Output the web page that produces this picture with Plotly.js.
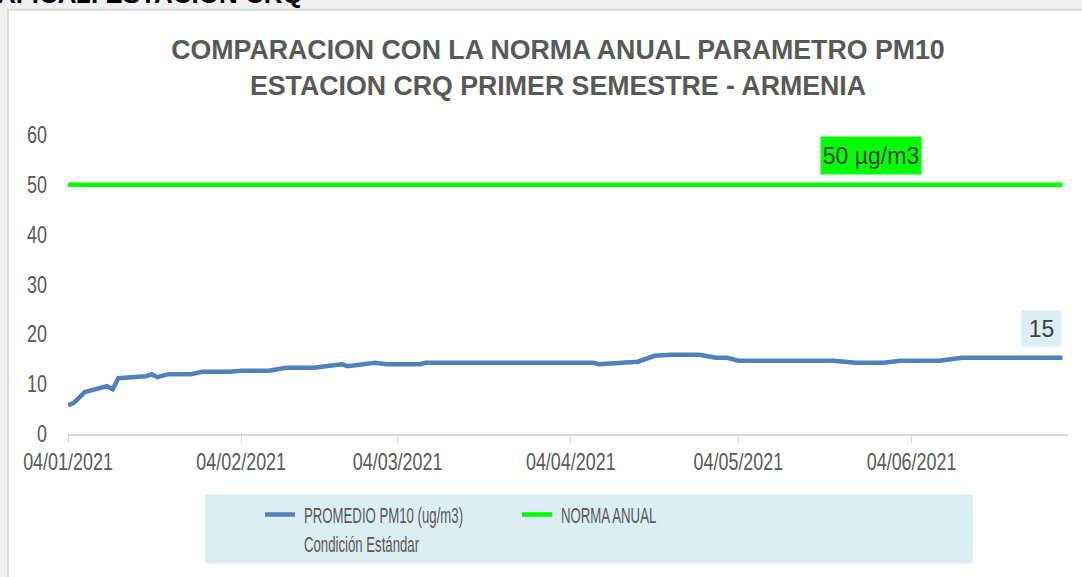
<!DOCTYPE html>
<html>
<head>
<meta charset="utf-8">
<script src="https://cdn.plot.ly/plotly-3.0.1.min.js"></script>
<style>
  body { margin: 0; background: #f0f0f0; }
  #plot { width: 1082px; height: 577px; }
</style>
</head>
<body>
<div id="plot"></div>
<script>
// PM10 promedio (ug/m3), condición estándar, estación CRQ
let fechas = ['2021-01-04', '2021-01-05', '2021-01-07', '2021-01-11', '2021-01-12', '2021-01-13',
    '2021-01-18', '2021-01-19', '2021-01-20', '2021-01-22', '2021-01-26', '2021-01-28',
    '2021-02-02', '2021-02-04', '2021-02-09', '2021-02-12', '2021-02-17', '2021-02-22',
    '2021-02-23', '2021-02-28', '2021-03-02', '2021-03-08', '2021-03-09', '2021-04-08',
    '2021-04-09', '2021-04-14', '2021-04-16', '2021-04-19', '2021-04-22', '2021-04-27',
    '2021-04-30', '2021-05-02', '2021-05-04', '2021-05-21', '2021-05-25', '2021-05-30',
    '2021-06-02', '2021-06-09', '2021-06-13', '2021-07-01'];
let promedio = [5.8, 6.2, 8.4, 9.6, 9.0, 11.2,
    11.6, 12.0, 11.4, 12.0, 12.0, 12.5,
    12.5, 12.7, 12.7, 13.3, 13.3, 14.0,
    13.6, 14.3, 14.0, 14.0, 14.3, 14.3,
    14.0, 14.3, 14.5, 15.7, 15.9, 15.9,
    15.3, 15.3, 14.7, 14.7, 14.3, 14.3,
    14.7, 14.7, 15.3, 15.3];

// Norma anual
let fechasNorma = ['2021-01-04', '2021-07-01'];
let norma = [50, 50];

// Ticks del eje x (dd/mm/yyyy)
let tickFechas = ['2021-01-04', '2021-02-04', '2021-03-04', '2021-04-04', '2021-05-04', '2021-06-04'];
let tickTextos = ['04/01/2021', '04/02/2021', '04/03/2021', '04/04/2021', '04/05/2021', '04/06/2021'];

let fuente = 'Liberation Sans Narrow, Arial Narrow, Liberation Sans, sans-serif';
let gris = '#595959';

let trace1 = {
    x: fechas,
    y: promedio,
    name: 'PROMEDIO PM10 (ug/m3)<br>Condición Estándar',
    type: 'scatter',
    mode: 'lines',
    line: {color: '#4f81bd', width: 4.5},
    hoverinfo: 'skip'
};

let trace2 = {
    x: fechasNorma,
    y: norma,
    name: 'NORMA ANUAL',
    type: 'scatter',
    mode: 'lines',
    line: {color: '#00ff00', width: 4.5},
    hoverinfo: 'skip'
};

let data = [trace1, trace2];

let layout = {
    width: 1082,
    height: 577,
    margin: {l: 68, r: 14, t: 135, b: 141},
    paper_bgcolor: '#f0f0f0',
    plot_bgcolor: 'rgba(0,0,0,0)',
    font: {family: fuente, color: gris, size: 21},
    showlegend: true,
    title: {
        text: '<b>COMPARACION CON LA NORMA ANUAL PARAMETRO PM10<br>ESTACION CRQ PRIMER SEMESTRE - ARMENIA</b>',
        font: {family: fuente, size: 28, color: gris},
        x: 0.49, xref: 'paper', xanchor: 'center',
        y: 0.898, yref: 'container', yanchor: 'middle'
    },
    xaxis: {
        type: 'date',
        range: ['2021-01-04', '2021-07-02'],
        tickvals: tickFechas,
        ticktext: tickTextos,
        showgrid: false,
        showline: true,
        linecolor: '#d9d9d9',
        linewidth: 1.5,
        ticks: 'outside',
        tickcolor: '#d9d9d9',
        ticklen: 7,
        tickfont: {family: fuente, size: 23, color: gris},
        zeroline: false
    },
    yaxis: {
        range: [0, 60],
        tickvals: [0, 10, 20, 30, 40, 50, 60],
        showgrid: false,
        showline: false,
        zeroline: false,
        ticks: '',
        ticklabelstandoff: 20,
        tickfont: {family: fuente, size: 23, color: gris}
    },
    legend: {
        orientation: 'h',
        x: 0.192, xanchor: 'left',
        y: -0.2, yanchor: 'top',
        bgcolor: 'rgba(0,0,0,0)',
        valign: 'top',
        entrywidth: 212,
        entrywidthmode: 'pixels',
        font: {family: fuente, size: 22, color: gris}
    },
    shapes: [
        // panel blanco del gráfico
        {type: 'rect', xref: 'paper', yref: 'paper', x0: -0.06, x1: 1.1, y0: -0.7, y1: 1.4186,
         fillcolor: '#ffffff', line: {color: '#d9d9d9', width: 2}, layer: 'below'},
        // fondo de la leyenda
        {type: 'rect', xref: 'paper', yref: 'paper', x0: 0.137, x1: 0.905, y0: -0.432, y1: -0.2027,
         fillcolor: '#daeef3', line: {width: 0}, layer: 'below'}
    ],
    annotations: [
        {text: '50 µg/m3', xref: 'paper', x: 0.803, xanchor: 'center', yref: 'y', y: 55.8,
         yanchor: 'middle', showarrow: false,
         bgcolor: '#00ff00', width: 96, height: 33, borderpad: 2,
         font: {family: fuente, size: 23, color: '#404040'}},
        {text: '15', xref: 'paper', x: 0.973, xanchor: 'center', yref: 'y', y: 21.1,
         yanchor: 'middle', showarrow: false,
         bgcolor: '#daeef3', width: 35, height: 31, borderpad: 2,
         font: {family: fuente, size: 23, color: '#404040'}},
        {text: '<b>GRÁFICA2. ESTACION CRQ</b>', xref: 'paper', x: 0.237, xanchor: 'right',
         yref: 'paper', y: 1.4136, yanchor: 'bottom', showarrow: false,
         font: {family: 'Liberation Sans, Arial, sans-serif', size: 26, color: '#000000'}}
    ]
};

// Comprime el texto en horizontal (como Arial Narrow), anclado en su x
function condensar(selector, s, dx) {
    document.querySelectorAll(selector).forEach(t => {
        let x = parseFloat(t.getAttribute('x')) || 0;
        let tr = t.getAttribute('transform') || '';
        t.setAttribute('transform', tr + ' translate(' + (x + (dx || 0)) + ',0) scale(' + s + ',1) translate(' + (-x) + ',0)');
    });
}

Plotly.newPlot('plot', data, layout, {displayModeBar: false, staticPlot: true}).then(() => {
    condensar('#plot .xtick text', 0.78);
    condensar('#plot .ytick text', 0.78);
    condensar('#plot .gtitle', 0.955);
    condensar('#plot .legendtext', 0.6, 4);
    condensar('#plot .annotation:nth-of-type(1) .annotation-text', 0.78);
    condensar('#plot .annotation:nth-of-type(2) .annotation-text', 0.85);
});
</script>
</body>
</html>
